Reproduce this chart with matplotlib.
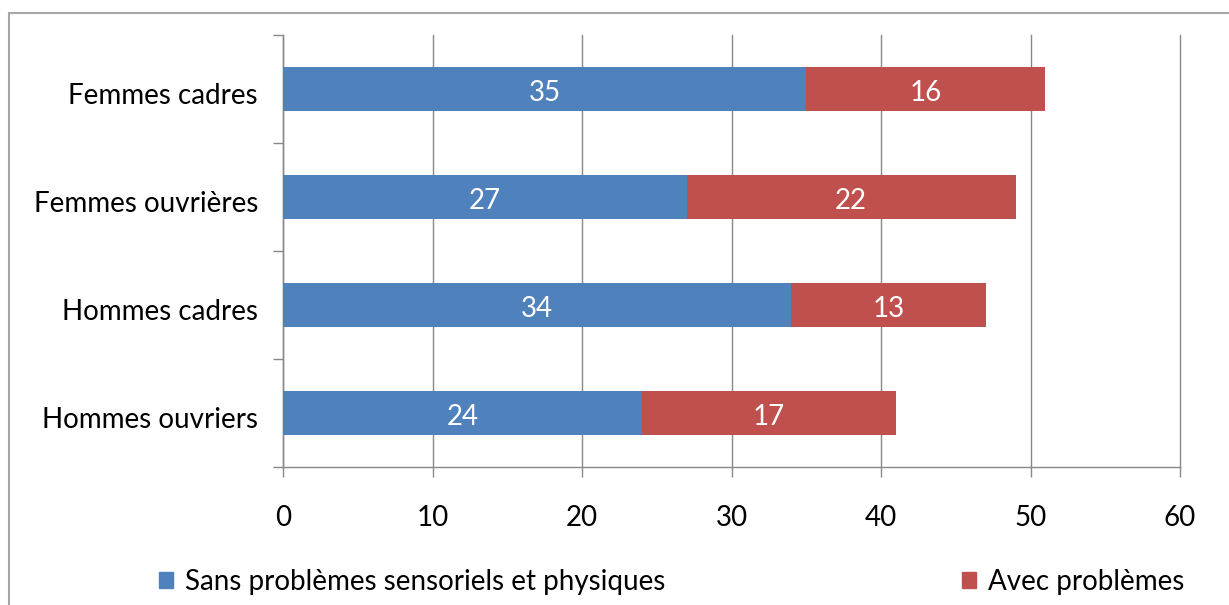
import matplotlib.pyplot as plt
from matplotlib.patches import Rectangle, Patch
from matplotlib.transforms import ScaledTranslation

# Data
categories = ["Hommes ouvriers", "Hommes cadres", "Femmes ouvrières", "Femmes cadres"]
sans_problemes = [24, 34, 27, 35]
avec_problemes = [17, 13, 22, 16]
series_names = ["Sans problèmes sensoriels et physiques", "Avec problèmes"]
x_ticks = [0, 10, 20, 30, 40, 50, 60]

blue = "#4F81BD"
red = "#C0504D"
grey = "#888888"
fs = 20

plt.rcParams["font.family"] = ["Lato", "DejaVu Sans"]

fig = plt.figure(figsize=(12.29, 6.05), dpi=100)
ax = fig.add_axes([283 / 1229, 1 - 467 / 605, (1180 - 283) / 1229, (467 - 35) / 605])

# outer chart frame
fig.patches.append(Rectangle((9 / 1229, -0.1), 1.2, 1 - 13 / 605 + 0.1,
                             transform=fig.transFigure, fill=False,
                             edgecolor="#a6a6a6", linewidth=1.5))

pos = range(len(categories))
b1 = ax.barh(pos, sans_problemes, height=0.41, color=blue, zorder=3)
b2 = ax.barh(pos, avec_problemes, left=sans_problemes, height=0.41, color=red, zorder=3)

for bars in (b1, b2):
    for t in ax.bar_label(bars, label_type="center", color="white", fontsize=fs):
        t.xyann = (0, -3)

ax.set_xlim(0, 60)
ax.set_ylim(-0.5, len(categories) - 0.5)
ax.set_xticks(x_ticks)
ax.set_yticks(list(pos))
ax.set_yticklabels(categories)
ax.set_yticks([i - 0.5 for i in range(len(categories) + 1)], minor=True)

ax.tick_params(axis="y", which="major", length=0, pad=18, labelsize=fs)
ax.tick_params(axis="y", which="minor", length=7, color=grey, width=1)
ax.tick_params(axis="x", length=7, color=grey, width=1, pad=20, labelsize=fs)

# nudge category labels down a little (Calibri-like baseline)
shift = ScaledTranslation(0, -0.04, fig.dpi_scale_trans)
for lab in ax.get_yticklabels():
    lab.set_transform(lab.get_transform() + shift)

ax.grid(axis="x", color=grey, linewidth=1, zorder=0)
for line in ax.get_xgridlines():
    line.set_clip_on(False)
for s in ("top", "right"):
    ax.spines[s].set_visible(False)
for s in ("left", "bottom"):
    ax.spines[s].set_color(grey)
    ax.spines[s].set_linewidth(1)

handles = [Patch(color=blue), Patch(color=red)]
leg_kw = dict(loc="center left", frameon=False, fontsize=fs, handlelength=0.5,
              handleheight=0.5, handletextpad=0.45, borderpad=0, borderaxespad=0)
fig.legend([handles[0]], [series_names[0]], bbox_to_anchor=(159 / 1229, 1 - 582 / 605), **leg_kw)
fig.legend([handles[1]], [series_names[1]], bbox_to_anchor=(962 / 1229, 1 - 582 / 605), **leg_kw)

fig.savefig("out.png", dpi=100)
